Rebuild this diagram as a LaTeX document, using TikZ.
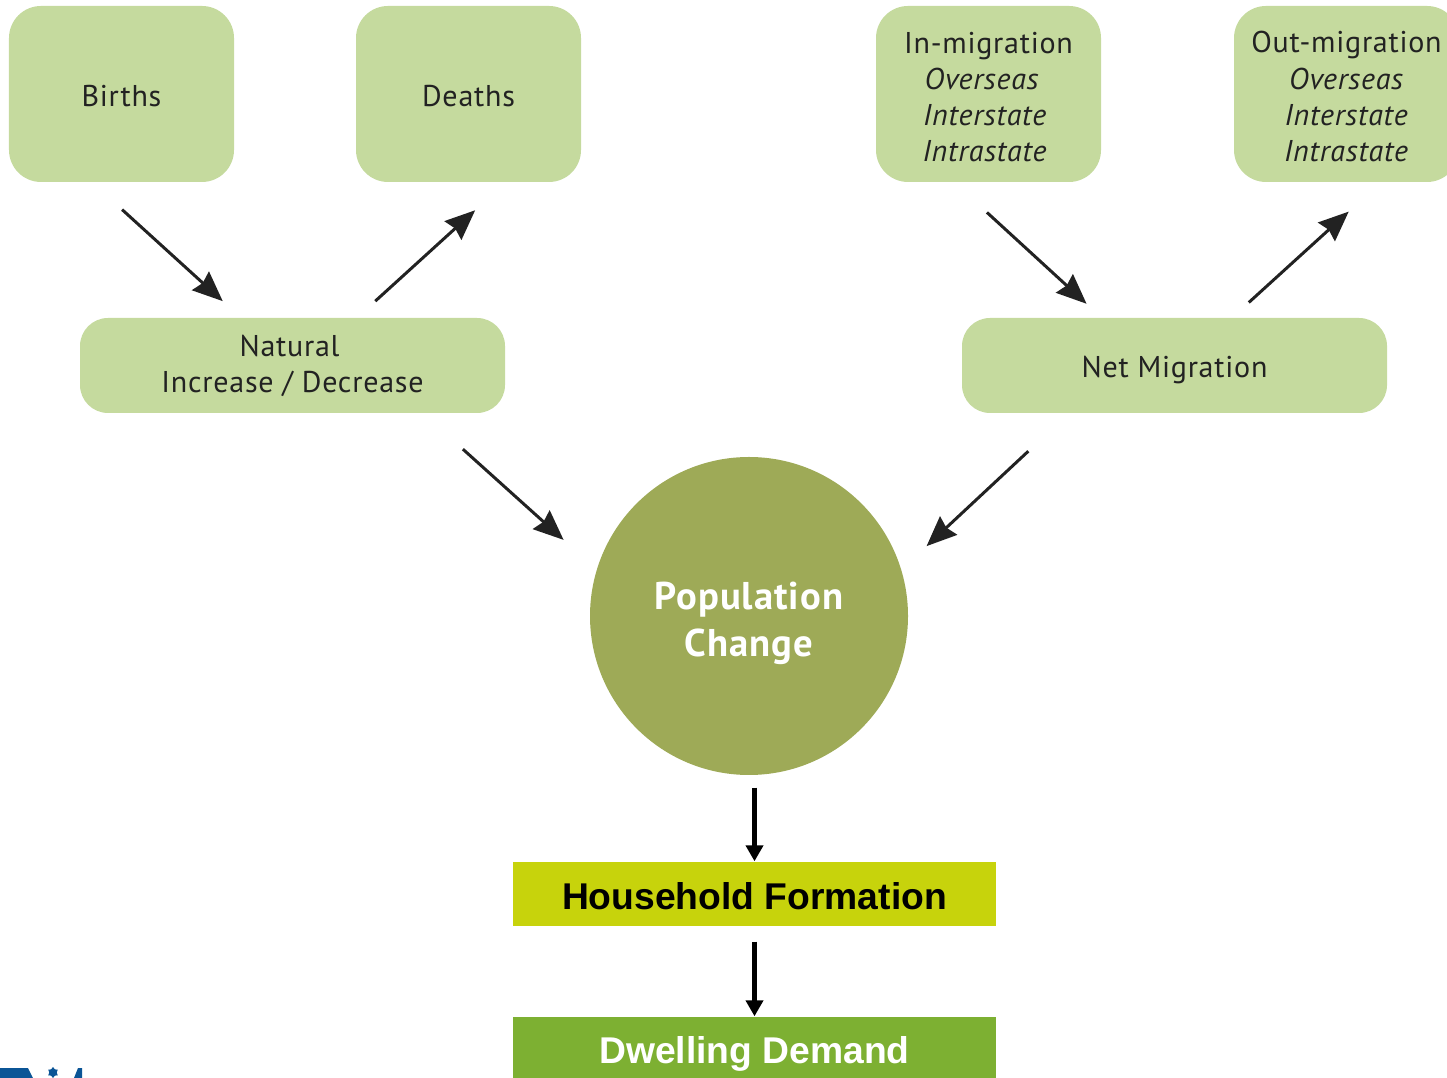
\documentclass[tikz,border=0pt]{standalone}
\usepackage{fontspec}
\usetikzlibrary{arrows.meta,shapes.geometric}
\setmainfont{PT Sans}[LetterSpace=2.5]
\newfontfamily\labelfont{Liberation Sans}[Scale=1]
\newcommand{\dropline}[1]{\rule{0pt}{#1}}
\newcommand{\padright}[1]{\rule{#1}{0pt}}
\definecolor{palegreen}{HTML}{C5DA9E}
\definecolor{olivegreen}{HTML}{9EAA57}
\definecolor{limegreen}{HTML}{C7D30C}
\definecolor{grassgreen}{HTML}{7DB032}
\definecolor{logoblue}{HTML}{0B5596}
\definecolor{inkgrey}{HTML}{222222}
\tikzset{
  topbox/.style={rectangle,rounded corners=.32cm,fill=palegreen,text=inkgrey,minimum width=2.25cm,minimum height=1.76cm,inner sep=0pt,align=center,font=\fontsize{8.55pt}{10.25pt}\selectfont},
  midbox/.style={topbox,rounded corners=.28cm,minimum width=4.25cm,minimum height=.95cm},
  popcircle/.style={circle,fill=olivegreen,text=white,minimum size=3.18cm,inner sep=0pt,align=center,font=\fontsize{11pt}{13.2pt}\selectfont\bfseries},
  resultbox/.style={rectangle,minimum width=4.83cm,inner sep=0pt,font=\labelfont\fontsize{10.6pt}{13pt}\selectfont\bfseries},
  flow/.style={draw=inkgrey,line width=.85pt,-{Stealth[length=.3cm,width=.25cm,inset=.03cm]}},
  demand/.style={draw=black,line width=1.3pt,-{Triangle[length=.16cm,width=.17cm]}}
}
\begin{document}
\begin{tikzpicture}
\path [use as bounding box,clip] (0,0) rectangle (14.47,-10.78);
\node (births)  at (1.215,-0.94)  [topbox] {\dropline{7pt}Births};
\node (deaths)  at (4.685,-0.94)  [topbox] {\dropline{7pt}Deaths};
\node (inmig)   at (9.885,-0.94)  [topbox] {\dropline{8pt}In-migration\\\textit{Overseas}\padright{1.3mm}\\\textit{Interstate}\padright{.7mm}\\\textit{Intrastate}\padright{.7mm}};
\node (outmig)  at (13.465,-0.94) [topbox] {\dropline{7.5pt}Out-migration\\[.5pt]\textit{Overseas}\\\textit{Interstate}\\\textit{Intrastate}};
\node (natural) at (2.925,-3.655) [midbox] {Natural\padright{.6mm}\\Increase / Decrease};
\node (netmig)  at (11.745,-3.655) [midbox] {\dropline{8.5pt}Net Migration};
\node (popchange) at (7.49,-6.16) [popcircle] {\dropline{12pt}Population\\Change};
\node (household) at (7.545,-8.94) [resultbox,fill=limegreen,text=black,minimum height=.64cm] {\dropline{9pt}Household Formation};
\node (dwelling)  at (7.545,-10.51) [resultbox,fill=grassgreen,text=white,minimum height=.68cm] {\dropline{9.5pt}Dwelling Demand};
\draw [flow,shorten <=.4cm,shorten >=.24cm] ([xshift=-.29cm]births.south) to ([xshift=-.52cm]natural.north);
\draw [flow,shorten <=.24cm,shorten >=.41cm] ([xshift=.65cm]natural.north) to ([xshift=.37cm]deaths.south);
\draw [flow,shorten <=.44cm,shorten >=.2cm] ([xshift=-.34cm]inmig.south) to ([xshift=1.4cm]netmig.north west);
\draw [flow,shorten <=.22cm,shorten >=.43cm] ([xshift=.58cm]netmig.north) to ([xshift=.34cm]outmig.south);
\draw [flow,shorten <=.53cm,shorten >=.44cm] ([xshift=1.31cm]natural.south) to (popchange.163.8);
\draw [flow,shorten <=.55cm,shorten >=.34cm] ([xshift=-1.06cm]netmig.south) to (popchange.17.8);
\draw [demand,shorten <=.12cm] (popchange.south -| household.north) to (household.north);
\draw [demand,shorten <=.15cm] (household.south) to (dwelling.north);
\node (logostar) at (.53,-10.725) [star,star points=6,fill=logoblue,minimum size=.11cm,inner sep=0pt] {};
\fill [logoblue] (0,-10.68) -- (.28,-10.68) -- (.33,-10.78) -- (0,-10.78) -- cycle;
\fill [logoblue] (.78,-10.68) -- (.82,-10.68) -- (.82,-10.78) -- (.74,-10.78) -- cycle;
\end{tikzpicture}
\end{document}
